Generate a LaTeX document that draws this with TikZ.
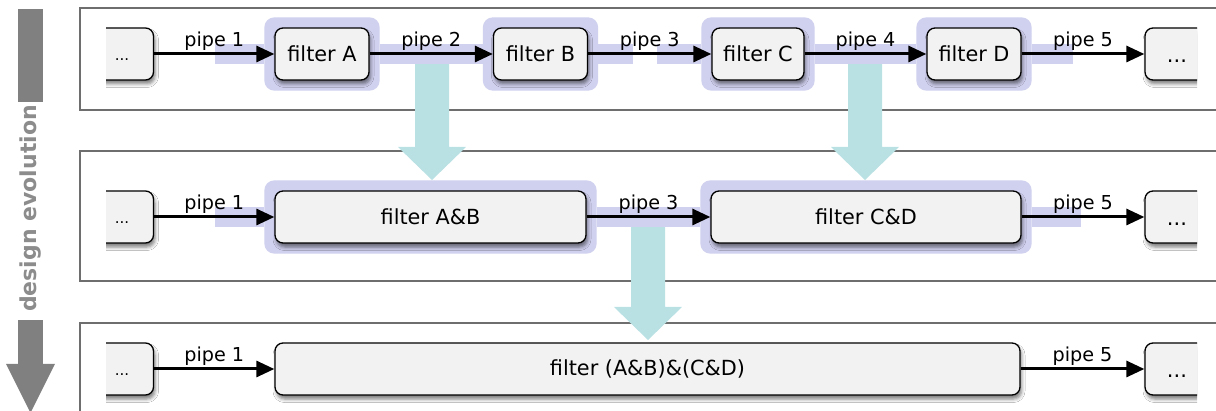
\documentclass[tikz,border=0pt]{standalone}
\usepackage{fontspec}
\setmainfont{DejaVu Sans}
\usetikzlibrary{arrows.meta,fit,calc,shadows.blur}

\definecolor{panelline}{HTML}{6E6E6E}
\definecolor{boxfill}{HTML}{F2F2F2}
\definecolor{lav}{HTML}{D0D0EF}
\definecolor{evoteal}{HTML}{B9E0E3}
\definecolor{evogray}{HTML}{808080}
\definecolor{evotext}{HTML}{8C8C8C}

\pgfdeclarelayer{back}
\pgfdeclarelayer{mid}
\pgfsetlayers{back,mid,main}

\tikzset{
  filterbox/.style={draw=black, line width=1.3pt, fill=boxfill, rounded corners=8pt,
    minimum height=52pt, inner sep=0pt, font=\fontsize{20.8}{24}\selectfont,
    blur shadow={shadow xshift=1.5pt, shadow yshift=-4pt, shadow blur radius=3.5pt, shadow opacity=50}},
  endboxL/.style={filterbox, minimum width=63pt, text height=14pt, text depth=0pt,
    font=\fontsize{15}{18}\selectfont},
  endboxR/.style={filterbox, minimum width=64pt, text height=18pt, text depth=0pt,
    font=\fontsize{21}{24}\selectfont},
  hl/.style={fill=lav, draw=none, rounded corners=10pt, inner sep=10pt},
  band/.style={draw=lav, line width=20pt},
  pipe/.style={draw=black, line width=3pt, -{Triangle[length=18pt,width=16pt]}},
  lbl/.style={font=\fontsize{19.2}{22}\selectfont, anchor=base, yshift=7pt, inner sep=0pt},
  panel/.style={draw=panelline, line width=1.5pt, fill=white},
  evo/.style={fill=evoteal, draw=none},
}

% block arrow from a start coordinate down to a tip coordinate
\newcommand\evoarrow[2]{%
  \fill[evo] ($(#1)+(-17,0)$) -- ($(#2)+(-17,-33)$) -- ($(#2)+(-34,-33)$) -- (#2)
    -- ($(#2)+(34,-33)$) -- ($(#2)+(17,-33)$) -- ($(#1)+(17,0)$) -- cycle;}

\begin{document}
\begin{tikzpicture}[x=1pt,y=-1pt]
\useasboundingbox (0,0) rectangle (1216,411);

% ---------- row 1: four filters ----------
\begin{scope}
  \clip (106,0) rectangle (200,140);
  \node[endboxL] (l1) at (122,54) {...};
\end{scope}
\node[filterbox, minimum width=94pt] (fa) at (322,54) {filter A};
\node[filterbox, minimum width=94pt] (fb) at (540.5,54) {filter B};
\node[filterbox, minimum width=92pt] (fc) at (758,54) {filter C};
\node[filterbox, minimum width=94pt] (fd) at (974,54) {filter D};
\begin{scope}
  \clip (1100,0) rectangle (1197,140);
  \node[endboxR] (r1) at (1177,54) {...};
\end{scope}

\draw[pipe] (l1) -- node[lbl]{pipe 1} (fa);
\draw[pipe] (fa) -- node[lbl]{pipe 2} (fb);
\draw[pipe] (fb) -- node[lbl]{pipe 3} (fc);
\draw[pipe] (fc) -- node[lbl]{pipe 4} (fd);
\draw[pipe] (fd) -- node[lbl]{pipe 5} (r1);

% ---------- row 2: two merged filters ----------
\begin{scope}
  \clip (106,140) rectangle (200,300);
  \node[endboxL] (l2) at (122,217) {...};
\end{scope}
\node[filterbox, minimum width=311pt] (fab) at (430.5,217) {filter A\&B};
\node[filterbox, minimum width=310pt] (fcd) at (866,217) {filter C\&D};
\begin{scope}
  \clip (1100,140) rectangle (1197,300);
  \node[endboxR] (r2) at (1177,217) {...};
\end{scope}

\draw[pipe] (l2) -- node[lbl]{pipe 1} (fab);
\draw[pipe] (fab) -- node[lbl]{pipe 3} (fcd);
\draw[pipe] (fcd) -- node[lbl]{pipe 5} (r2);

% ---------- row 3: one filter ----------
\begin{scope}
  \clip (106,300) rectangle (200,420);
  \node[endboxL] (l3) at (122,369) {...};
\end{scope}
\node[filterbox, minimum width=745pt] (fall) at (647.5,369) {filter (A\&B)\&(C\&D)};
\begin{scope}
  \clip (1100,300) rectangle (1197,420);
  \node[endboxR] (r3) at (1177,369) {...};
\end{scope}

\draw[pipe] (l3) -- node[lbl]{pipe 1} (fall);
\draw[pipe] (fall) -- node[lbl]{pipe 5} (r3);

% ---------- highlights and pipe bands ----------
\begin{pgfonlayer}{mid}
  \node[hl, fit=(fa)] (ha) {};
  \node[hl, fit=(fb)] (hb) {};
  \node[hl, fit=(fc)] (hc) {};
  \node[hl, fit=(fd)] (hd) {};
  \node[hl, fit=(fab)] (hab) {};
  \node[hl, fit=(fcd)] (hcd) {};

  \draw[band] (215,54) -- (ha.west);
  \draw[band] (ha.east) -- (hb.west);
  \draw[band] (hb.east) -- (633,54);
  \draw[band] (657,54) -- (hc.west);
  \draw[band] (hc.east) -- (hd.west);
  \draw[band] (hd.east) -- (1073,54);

  \draw[band] (215,217) -- (hab.west);
  \draw[band] (hab.east) -- (hcd.west);
  \draw[band] (hcd.east) -- (1081,217);
\end{pgfonlayer}

% ---------- panels, merge arrows, timeline ----------
\begin{pgfonlayer}{back}
  \draw[panel] (80,8) rectangle (1240,110);
  \draw[panel] (80,151) rectangle (1240,281);
  \draw[panel] (80,323) rectangle (1240,440);

  \coordinate (m1s) at (432,64);  \coordinate (m1t) at (432,180);
  \coordinate (m2s) at (865,64);  \coordinate (m2t) at (865,180);
  \coordinate (m3s) at (648,227); \coordinate (m3t) at (648,340);
  \evoarrow{m1s}{m1t}
  \evoarrow{m2s}{m2t}
  \evoarrow{m3s}{m3t}

  \fill[evogray] (18,9) rectangle (43,102);
  \fill[evogray] (18,320) rectangle (43,364);
  \fill[evogray] (6,364) -- (55,364) -- (30.5,413) -- cycle;
  \node[rotate=90, text=evotext, inner sep=0pt,
        font=\bfseries\fontsize{22}{26}\selectfont] (evolabel) at (30.5,208.5) {design evolution};
\end{pgfonlayer}
\end{tikzpicture}
\end{document}
